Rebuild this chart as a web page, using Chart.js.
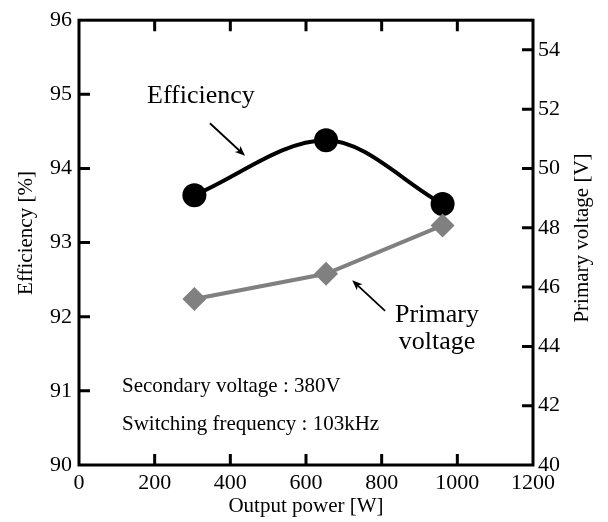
<!DOCTYPE html>
<html>
<head>
<meta charset="utf-8">
<script src="https://cdn.jsdelivr.net/npm/chart.js@4.4.0/dist/chart.umd.min.js"></script>
<style>
  body { margin: 0; background: #fff; }
  #wrap { width: 608px; height: 522px; position: relative; }
</style>
</head>
<body>
<div id="wrap"><canvas id="effChart"></canvas></div>
<script>
const outputPower = [305, 653, 961];
const efficiency = [93.64, 94.38, 93.52];
const primaryVoltage = [45.6, 46.45, 48.08];

const X_TICKS = [0, 200, 400, 600, 800, 1000, 1200];
const Y_TICKS = [90, 91, 92, 93, 94, 95, 96];
const Y2_TICKS = [40, 42, 44, 46, 48, 50, 52, 54];

const SERIF = "'Liberation Serif', 'Times New Roman', serif";

function toPoints(xs, ys) {
  return xs.map((x, i) => ({ x: x, y: ys[i] }));
}

// box, inward ticks, titles and notes
const framePlugin = {
  id: 'frame',
  afterDraw(chart) {
    const ctx = chart.ctx;
    const area = chart.chartArea;
    const sx = chart.scales.x;
    const sy = chart.scales.y;
    const sy2 = chart.scales.y1;
    const tick = 11;

    ctx.save();
    ctx.strokeStyle = '#000';
    ctx.lineWidth = 3;
    ctx.strokeRect(area.left, area.top, area.right - area.left, area.bottom - area.top);

    ctx.beginPath();
    X_TICKS.slice(1, -1).forEach(v => {
      const px = sx.getPixelForValue(v);
      ctx.moveTo(px, area.bottom);
      ctx.lineTo(px, area.bottom - tick);
      ctx.moveTo(px, area.top);
      ctx.lineTo(px, area.top + tick);
    });
    Y_TICKS.slice(1, -1).forEach(v => {
      const py = sy.getPixelForValue(v);
      ctx.moveTo(area.left, py);
      ctx.lineTo(area.left + tick, py);
    });
    Y2_TICKS.slice(1).forEach(v => {
      const py = sy2.getPixelForValue(v);
      ctx.moveTo(area.right, py);
      ctx.lineTo(area.right - tick, py);
    });
    ctx.stroke();

    // axis titles
    ctx.fillStyle = '#000';
    ctx.font = '21px ' + SERIF;
    ctx.textAlign = 'center';
    ctx.textBaseline = 'alphabetic';
    ctx.fillText('Output power [W]', (area.left + area.right) / 2, 512);

    ctx.save();
    ctx.translate(32, 233);
    ctx.rotate(-Math.PI / 2);
    ctx.fillText('Efficiency [%]', 0, 0);
    ctx.restore();

    ctx.save();
    ctx.translate(588, 238);
    ctx.rotate(-Math.PI / 2);
    ctx.fillText('Primary voltage [V]', 0, 0);
    ctx.restore();

    // series labels
    ctx.font = '26px ' + SERIF;
    ctx.textAlign = 'left';
    ctx.fillText('Efficiency', 147, 103);
    ctx.textAlign = 'center';
    ctx.fillText('Primary', 437, 322);
    ctx.fillText('voltage', 437, 349);

    // notes
    ctx.font = '21px ' + SERIF;
    ctx.textAlign = 'left';
    ctx.fillText('Secondary voltage : 380V', 122, 392);
    ctx.fillText('Switching frequency : 103kHz', 122, 430);

    // arrows
    drawArrow(ctx, sx.getPixelForValue(346), sy.getPixelForValue(94.61),
      sx.getPixelForValue(439), sy.getPixelForValue(94.17));
    drawArrow(ctx, sx.getPixelForValue(809), sy2.getPixelForValue(45.2),
      sx.getPixelForValue(722), sy2.getPixelForValue(46.23));
    ctx.restore();
  }
};

function drawArrow(ctx, x1, y1, x2, y2) {
  const ang = Math.atan2(y2 - y1, x2 - x1);
  const len = 11;
  const wing = 0.38;
  ctx.save();
  ctx.strokeStyle = '#000';
  ctx.fillStyle = '#000';
  ctx.lineWidth = 1.8;
  ctx.beginPath();
  ctx.moveTo(x1, y1);
  ctx.lineTo(x2 - Math.cos(ang) * 6, y2 - Math.sin(ang) * 6);
  ctx.stroke();
  ctx.beginPath();
  ctx.moveTo(x2, y2);
  ctx.lineTo(x2 - len * Math.cos(ang - wing), y2 - len * Math.sin(ang - wing));
  ctx.lineTo(x2 - len * 0.7 * Math.cos(ang), y2 - len * 0.7 * Math.sin(ang));
  ctx.lineTo(x2 - len * Math.cos(ang + wing), y2 - len * Math.sin(ang + wing));
  ctx.closePath();
  ctx.fill();
  ctx.restore();
}

const tickFont = { family: SERIF, size: 22 };

const ctx = document.getElementById('effChart').getContext('2d');
new Chart(ctx, {
  type: 'line',
  data: {
    datasets: [{
      label: 'Primary voltage',
      data: toPoints(outputPower, primaryVoltage),
      yAxisID: 'y1',
      order: 0,
      borderColor: '#808080',
      borderWidth: 4,
      tension: 0,
      pointStyle: 'rectRot',
      pointRadius: 12,
      pointBackgroundColor: '#808080',
      pointBorderWidth: 0
    }, {
      label: 'Efficiency',
      data: toPoints(outputPower, efficiency),
      yAxisID: 'y',
      order: 1,
      borderColor: '#000',
      borderWidth: 4,
      cubicInterpolationMode: 'monotone',
      pointStyle: 'circle',
      pointRadius: 12,
      pointBackgroundColor: '#000',
      pointBorderWidth: 0
    }]
  },
  options: {
    responsive: true,
    maintainAspectRatio: false,
    animation: false,
    layout: { padding: { top: 12 } },
    plugins: {
      legend: { display: false },
      tooltip: { enabled: false }
    },
    scales: {
      x: {
        type: 'linear',
        min: 0,
        max: 1200,
        afterFit(scale) { scale.height = 57; },
        afterBuildTicks(scale) { scale.ticks = X_TICKS.map(v => ({ value: v })); },
        grid: { display: false, drawTicks: false },
        border: { display: false },
        ticks: {
          padding: 5,
          color: '#000',
          maxRotation: 0,
          font: tickFont,
          callback: v => String(v)
        }
      },
      y: {
        position: 'left',
        min: 90,
        max: 96,
        afterFit(scale) { scale.width = 79; },
        afterBuildTicks(scale) { scale.ticks = Y_TICKS.map(v => ({ value: v })); },
        grid: { display: false, drawTicks: false },
        border: { display: false },
        ticks: {
          padding: 7,
          color: '#000',
          font: tickFont,
          callback: v => String(v)
        }
      },
      y1: {
        position: 'right',
        min: 40,
        max: 55,
        afterFit(scale) { scale.width = 75; },
        afterBuildTicks(scale) { scale.ticks = Y2_TICKS.map(v => ({ value: v })); },
        grid: { display: false, drawTicks: false },
        border: { display: false },
        ticks: {
          padding: 5,
          color: '#000',
          font: tickFont,
          callback: v => String(v)
        }
      }
    }
  },
  plugins: [framePlugin]
});
</script>
</body>
</html>
